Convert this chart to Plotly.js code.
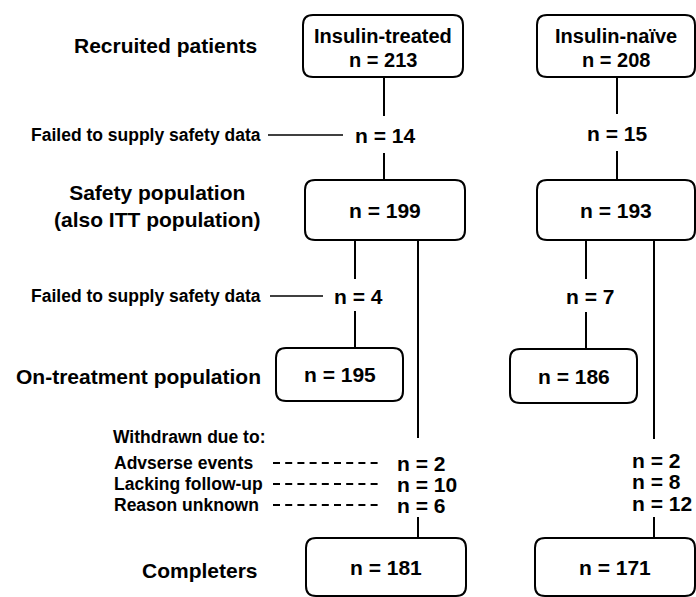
<!DOCTYPE html>
<html>
<head>
<meta charset="utf-8">
<script src="https://cdn.plot.ly/plotly-3.0.1.min.js"></script>
<style>html,body{margin:0;padding:0;background:#fff;}#chart{width:696px;height:597px;}</style>
</head>
<body>
<div id="chart"></div>
<script>
// ---- data ----
const stageLabels = ['Recruited patients', 'Safety population<br>(also ITT population)', 'On-treatment population', 'Completers'];
const groupNames = ['Insulin-treated', 'Insulin-naïve'];
const treatedCounts = [213, 199, 195, 181];
const naiveCounts = [208, 193, 186, 171];
const exclusionLabel = 'Failed to supply safety data';
const treatedExcluded = [14, 4];
const naiveExcluded = [15, 7];
const withdrawalHeader = 'Withdrawn due to:';
const withdrawalReasons = ['Advserse events', 'Lacking follow-up', 'Reason unknown'];
const treatedWithdrawn = [2, 10, 6];
const naiveWithdrawn = [2, 8, 12];

// ---- geometry (layout only) ----
const G = {
  treated: {
    boxes: [[303, 463, 15, 77], [305, 465, 180, 240], [276, 403, 348, 401], [306, 466, 538, 596]],
    exclXs: [385, 358], exclY: [135, 296],
    lines: [[384, 77, 116], [384, 153, 180], [355, 240, 279], [355, 311, 348], [418, 240, 438], [418, 517, 538]],
    wdX: 396, wdY: [463, 484, 505]
  },
  naive: {
    boxes: [[537, 695, 15, 77], [537, 695, 180, 240], [510, 637, 349, 403], [535, 695, 538, 596]],
    exclXs: [617, 590], exclY: [133, 296],
    lines: [[617, 77, 114], [617, 151, 180], [586, 240, 279], [586, 312, 349], [654, 240, 439], [654, 517, 538]],
    wdX: 631, wdY: [460, 481, 503]
  },
  stageX: [165, 157, 262, 200], stageY: [45, 206, 376, 570], stageAnchor: ['center', 'center', 'right', 'center'],
  exclLabelRight: 262, exclLine: [[268, 343], [270, 323]],
  wdHeader: [112, 437], wdLabelX: 113, wdLabelY: [463, 484, 505], wdDash: [273, 379]
};

const FONT = 'Liberation Sans, Arial, Helvetica, sans-serif';
const shapes = [];
const ann = [];

function rbox(x0, x1, y0, y1, r) {
  return `M${x0 + r},${y0} H${x1 - r} Q${x1},${y0} ${x1},${y0 + r} V${y1 - r} Q${x1},${y1} ${x1 - r},${y1} H${x0 + r} Q${x0},${y1} ${x0},${y1 - r} V${y0 + r} Q${x0},${y0} ${x0 + r},${y0} Z`;
}
function text(t, x, y, size, xanchor, align) {
  ann.push({text: t, x: x, y: y, xref: 'x', yref: 'y', showarrow: false,
    xanchor: xanchor || 'center', yanchor: 'middle', align: align || 'center', borderpad: 0,
    font: {family: FONT, size: size, color: '#000', weight: 'bold'}});
}
function line(x0, y0, x1, y1, w, dash) {
  shapes.push({type: 'line', xref: 'x', yref: 'y', x0: x0, y0: y0, x1: x1, y1: y1,
    line: {color: '#000', width: w, dash: dash || 'solid'}});
}

function drawGroup(g, counts, excluded, withdrawn, name) {
  g.boxes.forEach((b, i) => {
    shapes.push({type: 'path', xref: 'x', yref: 'y', path: rbox(b[0], b[1], b[2], b[3], 10),
      line: {color: '#000', width: 2}, fillcolor: 'rgba(0,0,0,0)'});
    const cx = (b[0] + b[1]) / 2;
    if (i === 0) {
      text(name, cx, 36, 20);
      text('n = ' + counts[i], cx, 60, 20);
    } else {
      text('n = ' + counts[i], cx, (b[2] + b[3]) / 2, 21);
    }
  });
  g.lines.forEach(l => line(l[0], l[1], l[0], l[2], 2));
  excluded.forEach((v, i) => text('n = ' + v, g.exclXs[i], g.exclY[i], 21));
  withdrawn.forEach((v, i) => text('n = ' + v, g.wdX, g.wdY[i], 21, 'left'));
}

drawGroup(G.treated, treatedCounts, treatedExcluded, treatedWithdrawn, groupNames[0]);
drawGroup(G.naive, naiveCounts, naiveExcluded, naiveWithdrawn, groupNames[1]);

stageLabels.forEach((s, i) => text(s, G.stageX[i], G.stageY[i], 21, G.stageAnchor[i]));

G.exclLine.forEach((l, i) => {
  text(exclusionLabel, G.exclLabelRight, G.treated.exclY[i], 17.5, 'right');
  line(l[0], G.treated.exclY[i], l[1], G.treated.exclY[i], 1.5);
});

text(withdrawalHeader, G.wdHeader[0], G.wdHeader[1], 17.5, 'left');
withdrawalReasons.forEach((r, i) => {
  text(r, G.wdLabelX, G.wdLabelY[i], 17.5, 'left');
  line(G.wdDash[0], G.wdLabelY[i], G.wdDash[1], G.wdLabelY[i], 1.8, '7px,5.2px');
});

const layout = {
  width: 696, height: 597,
  margin: {l: 0, r: 0, t: 0, b: 0},
  paper_bgcolor: '#fff', plot_bgcolor: '#fff',
  xaxis: {range: [0, 696], visible: false, fixedrange: true},
  yaxis: {range: [597, 0], visible: false, fixedrange: true},
  showlegend: false,
  shapes: shapes,
  annotations: ann
};

Plotly.newPlot('chart', [{x: [], y: [], type: 'scatter', mode: 'markers', hoverinfo: 'skip'}], layout, {staticPlot: true, displayModeBar: false});
</script>
</body>
</html>
